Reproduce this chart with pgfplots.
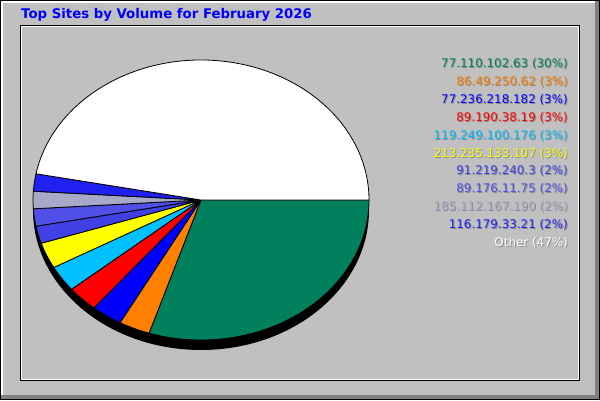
\documentclass[border=0pt]{standalone}
\usepackage{fontspec}
\setmainfont{DejaVu Sans}
\usepackage{pgfplots}
\usepackage{pgfplotstable}
\pgfplotsset{compat=1.18}

\definecolor{bg}{RGB}{192,192,192}
\definecolor{dkgray}{RGB}{128,128,128}
\definecolor{c0}{RGB}{0,128,92}
\definecolor{c1}{RGB}{255,128,0}
\definecolor{c2}{RGB}{0,0,255}
\definecolor{c3}{RGB}{255,0,0}
\definecolor{c4}{RGB}{0,192,255}
\definecolor{c5}{RGB}{255,255,0}
\definecolor{c6}{RGB}{64,64,228}
\definecolor{c7}{RGB}{80,80,230}
\definecolor{c8}{RGB}{168,168,200}
\definecolor{c9}{RGB}{32,32,240}
\definecolor{c10}{RGB}{255,255,255}

% share of each site, in percent, clockwise from 3 o'clock
\pgfplotstableread{
pct
30
3
3
3
3
3
2
2
2
2
47
}\slices

\newcommand\legendrow[3]{%
  \node[anchor=base east, inner sep=0pt, text=black!45, font=\fontsize{11.9}{14}\selectfont]
    at (axis cs:569,{331.7-17.94*#1}) {#3};
  \node[anchor=base east, inner sep=0pt, text=#2, font=\fontsize{11.9}{14}\selectfont]
    at (axis cs:568,{332.7-17.94*#1}) {#3};
}

\begin{document}
\begin{tikzpicture}
\begin{axis}[
  hide axis, scale only axis,
  width=600pt, height=400pt,
  xmin=0, xmax=600, ymin=0, ymax=400,
  enlargelimits=false, clip=false]

% frame
\fill[bg] (axis cs:0,0) rectangle (axis cs:600,400);
\fill[white] (axis cs:1,1) rectangle (axis cs:3,399);
\fill[white] (axis cs:1,397) rectangle (axis cs:599,399);
\fill[dkgray] (axis cs:595,1) rectangle (axis cs:599,399);
\fill[dkgray] (axis cs:1,1) rectangle (axis cs:599,5);
\draw[black, line width=1pt] (axis cs:0.5,0.5) rectangle (axis cs:599.5,399.5);
\draw[black, line width=1pt] (axis cs:20.5,19.5) rectangle (axis cs:579.5,374.5);
\draw[white, line width=1pt] (axis cs:21.5,20.5) rectangle (axis cs:578.5,373.5);

% pie
\fill[black] (axis cs:201,190) ellipse[x radius=168, y radius=140];
\pgfplotsextra{
  \gdef\cum{0}
  \foreach \i in {0,...,10}{
    \pgfplotstablegetelem{\i}{pct}\of\slices
    \pgfmathsetmacro\sa{-3.6*\cum}
    \pgfmathsetmacro\ea{-3.6*(\cum+\pgfplotsretval)}
    \pgfmathsetmacro\newcum{\cum+\pgfplotsretval}
    \global\let\cum\newcum
    \filldraw[fill=c\i, draw=black, line width=0.8pt, line join=round]
      (axis cs:201,200) -- (axis cs:{201+168*cos(\sa)},{200+140*sin(\sa)})
      arc[start angle=\sa, end angle=\ea, x radius=168, y radius=140] -- cycle;
  }
}

% legend
\legendrow{0}{c0}{77.110.102.63 (30\%)}
\legendrow{1}{c1}{86.49.250.62 (3\%)}
\legendrow{2}{c2}{77.236.218.182 (3\%)}
\legendrow{3}{c3}{89.190.38.19 (3\%)}
\legendrow{4}{c4}{119.249.100.176 (3\%)}
\legendrow{5}{c5}{213.235.133.107 (3\%)}
\legendrow{6}{c6}{91.219.240.3 (2\%)}
\legendrow{7}{c7}{89.176.11.75 (2\%)}
\legendrow{8}{c8}{185.112.167.190 (2\%)}
\legendrow{9}{c9}{116.179.33.21 (2\%)}
\legendrow{10}{white}{Other (47\%)}

% title
\node[anchor=base west, inner sep=0pt, text=blue, font=\bfseries\fontsize{13.3}{15}\selectfont]
  at (axis cs:21,381) {Top Sites by Volume for February 2026};
\end{axis}
\end{tikzpicture}
\end{document}
